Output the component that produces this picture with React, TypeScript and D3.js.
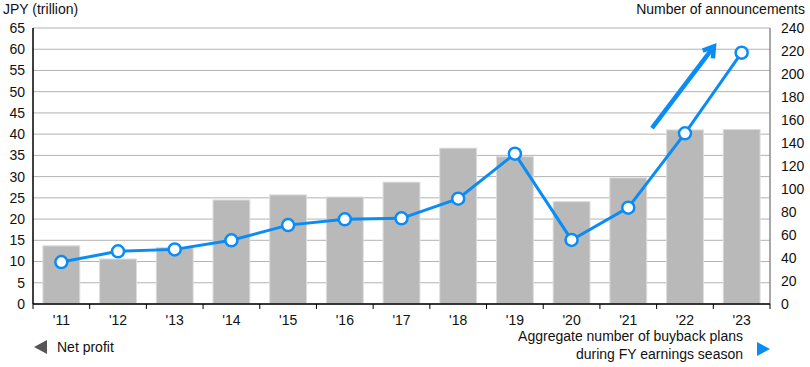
import React from "react";
import * as d3 from "d3";

const years = ["'11", "'12", "'13", "'14", "'15", "'16", "'17", "'18", "'19", "'20", "'21", "'22", "'23"];
const netProfit = [13.7, 10.6, 13.3, 24.5, 25.7, 25.2, 28.7, 36.7, 34.7, 24.1, 29.7, 41.0, 41.1];
const buybacks = [36.5, 45.8, 47.5, 55.4, 68.6, 73.6, 74.5, 91.6, 130.7, 55.7, 83.8, 148.4, 218.5];
const leftTicks = d3.range(0, 66, 5);
const rightTicks = d3.range(0, 241, 20);

const W = 810;
const H = 367;
const m = { left: 33, right: 40, top: 28, bottom: 63 };
const blue = "#0a8cf5";
const font = "'Liberation Sans', Arial, sans-serif";
const fs = 14;

const x = d3.scaleBand<string>().domain(years).range([m.left, W - m.right]).paddingInner(0.35).paddingOuter(0.175);
const yL = d3.scaleLinear().domain([0, 65]).range([H - m.bottom, m.top]);
const yR = d3.scaleLinear().domain([0, 240]).range([H - m.bottom, m.top]);
const cx = (d: string) => (x(d) as number) + x.bandwidth() / 2;
const line = d3.line<number>().x((_, i) => cx(years[i])).y((d) => yR(d));
const step = x.step();
const x0 = m.left;
const x1 = W - m.right;
const y0 = yL(0);

export default function App() {
  const tail = [cx("'22") - 33, yR(153)];
  const tip = [cx("'22") + 29, yR(224)];
  const ang = Math.atan2(tip[1] - tail[1], tip[0] - tail[0]);
  const ah = 12;
  const head = [ang + Math.PI * 0.82, ang - Math.PI * 0.82].map((a) => [tip[0] + ah * Math.cos(a), tip[1] + ah * Math.sin(a)]);
  return (
    <svg width={W} height={H} style={{ position: "absolute", left: 0, top: 0, fontFamily: font }}>
      {leftTicks.map((t) => (
        <line key={t} x1={x0} x2={x1} y1={yL(t)} y2={yL(t)} stroke="#b3b3b3" strokeWidth={1} />
      ))}
      {years.map((d, i) => (
        <rect key={d} x={x(d)} y={yL(netProfit[i])} width={x.bandwidth()} height={y0 - yL(netProfit[i])}
          fill="#b9b9b9" stroke="#dcdcdc" strokeWidth={1} />
      ))}
      <line x1={x0} x2={x0} y1={m.top} y2={y0} stroke="#000" strokeWidth={1.5} />
      <line x1={x1} x2={x1} y1={m.top} y2={y0} stroke="#8c8c8c" strokeWidth={1.5} />
      <line x1={x0} x2={x1} y1={y0} y2={y0} stroke="#000" strokeWidth={1.5} />
      {d3.range(years.length + 1).map((i) => (
        <line key={i} x1={x0 + i * step} x2={x0 + i * step} y1={y0} y2={y0 + 5} stroke="#000" strokeWidth={1} />
      ))}
      {leftTicks.map((t) => (
        <text key={t} x={25} y={yL(t)} dy="0.35em" textAnchor="end" fontSize={fs} fill="#111">{t}</text>
      ))}
      {rightTicks.map((t) => (
        <text key={t} x={781} y={yR(t)} dy="0.35em" textAnchor="start" fontSize={fs} fill="#111">{t}</text>
      ))}
      {years.map((d) => (
        <text key={d} x={cx(d)} y={325} textAnchor="middle" fontSize={fs} fill="#111">{d}</text>
      ))}
      <path d={line(buybacks) as string} fill="none" stroke={blue} strokeWidth={3} />
      {buybacks.map((v, i) => (
        <circle key={i} cx={cx(years[i])} cy={yR(v)} r={6} fill="#fff" stroke={blue} strokeWidth={2.5} />
      ))}
      <line x1={tail[0]} y1={tail[1]} x2={tip[0] - 3 * Math.cos(ang)} y2={tip[1] - 3 * Math.sin(ang)} stroke={blue} strokeWidth={4.5} />
      <polyline points={`${head[0][0]},${head[0][1]} ${tip[0]},${tip[1]} ${head[1][0]},${head[1][1]}`}
        fill="none" stroke={blue} strokeWidth={4.5} strokeLinejoin="miter" />
      <text x={3} y={14} fontSize={fs} fill="#111">JPY (trillion)</text>
      <text x={805} y={14} textAnchor="end" fontSize={fs} fill="#111">Number of announcements</text>
      <path d="M34,347 L47,340 L47,354 Z" fill="#555" />
      <text x={57} y={352} fontSize={fs} fill="#111">Net profit</text>
      <text x={743} y={341} textAnchor="end" fontSize={fs} fill="#111">Aggregate number of buyback plans</text>
      <text x={743} y={359} textAnchor="end" fontSize={fs} fill="#111">during FY earnings season</text>
      <path d="M757,342 L770,349 L757,356 Z" fill={blue} />
    </svg>
  );
}
